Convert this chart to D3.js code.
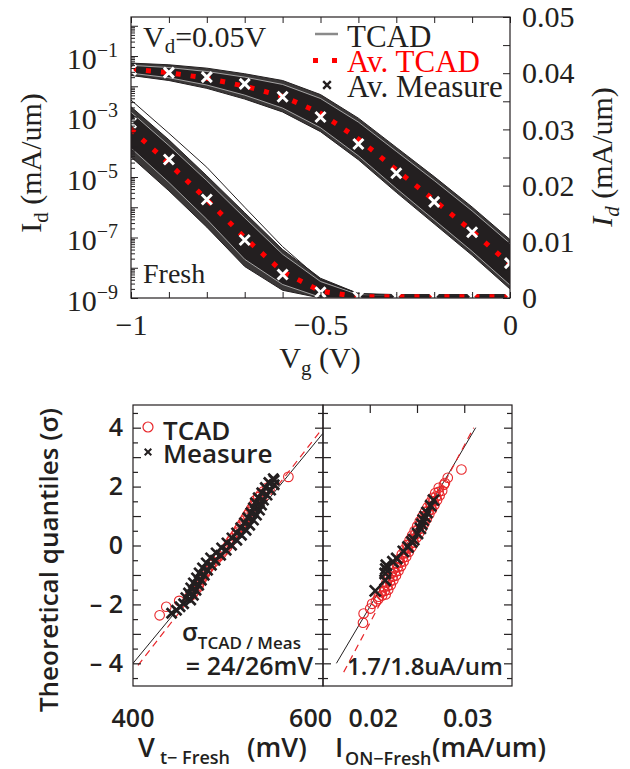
<!DOCTYPE html>
<html>
<head>
<meta charset="utf-8">
<script src="https://cdn.jsdelivr.net/npm/d3@7"></script>
<style>
  body { margin: 0; background: #fff; }
  svg { display: block; }
</style>
</head>
<body>
<div id="wrapper"></div>
<script>
// ---------- top panel: Id-Vg at Vd = 0.05V (mA/um) ----------
const vg = [-1, -0.9, -0.8, -0.7, -0.6, -0.5, -0.4, -0.3, -0.2, -0.1, 0];

// log-scale curves (left axis)
const logAvTcad  = [3.8e-4, 2.8e-5, 1.8e-6, 9.8e-8, 7.4e-9, 1.7e-9, 1.1e-9, 1.1e-9, 1.1e-9, 1.1e-9, 1.1e-9];
const logAvMeas  = [6.2e-4, 3.8e-5, 1.8e-6, 8.3e-8, 6.0e-9, 1.55e-9, 1.1e-9, 1.1e-9, 1.1e-9, 1.1e-9, 1.1e-9];
const logBandHi  = [1.4e-3, 1.1e-4, 7.6e-6, 4.5e-7, 2.8e-8, 3.5e-9, 1.3e-9, 1.25e-9, 1.25e-9, 1.25e-9, 1.25e-9];
const logBandLo  = [9.1e-5, 6.6e-6, 4.0e-7, 1.9e-8, 2.8e-9, 1.05e-9, 1e-9, 1e-9, 1e-9, 1e-9, 1e-9];
const logEdgeHi  = [2.1e-3, 1.7e-4, 1.1e-5, 6.6e-7, 4.0e-8, 4.5e-9, 1.4e-9, 1.3e-9, 1.3e-9, 1.3e-9, 1.3e-9];
const logEdgeLo  = [4.6e-5, 3.5e-6, 2.2e-7, 1.1e-8, 1.8e-9, 1e-9, 1e-9, 1e-9, 1e-9, 1e-9, 1e-9];
const logOutlier = [3.5e-3, 2.8e-4, 2.1e-5, 1.0e-6, 5.0e-8, 4.0e-9, 1.4e-9, 1.2e-9, 1.2e-9, 1.2e-9, 1.2e-9];

// linear-scale curves (right axis)
const linAvTcad = [0.0407, 0.0401, 0.0391, 0.0377, 0.0359, 0.0329, 0.0283, 0.0228, 0.0174, 0.0119, 0.0060];
const linAvMeas = [0.0406, 0.0401, 0.0393, 0.0381, 0.0358, 0.0322, 0.0274, 0.0222, 0.0171, 0.0117, 0.0062];
const linBandHi = [0.0414, 0.0410, 0.0403, 0.0393, 0.0380, 0.0355, 0.0313, 0.0261, 0.0209, 0.0155, 0.0097];
const linBandLo = [0.0400, 0.0392, 0.0379, 0.0361, 0.0338, 0.0303, 0.0253, 0.0195, 0.0139, 0.0083, 0.0023];
const linEdgeHi = [0.0418, 0.0415, 0.0409, 0.0399, 0.0387, 0.0362, 0.0320, 0.0268, 0.0216, 0.0162, 0.0104];
const linEdgeLo = [0.0396, 0.0387, 0.0373, 0.0354, 0.0331, 0.0296, 0.0246, 0.0188, 0.0132, 0.0076, 0.0016];

const vgLabels = [-1, -0.5, 0];
const idLinLabels = [0, 0.01, 0.02, 0.03, 0.04, 0.05];
const idLogLabels = [1e-9, 1e-7, 1e-5, 1e-3, 1e-1];

// ---------- bottom panels: normal QQ plots, [value, theoretical quantile] ----------
const vtTcad = [[430,-2.37],[437.5,-2.08],[452,-1.88],[463,-1.76],[467,-1.66],[469,-1.56],[472,-1.46],[474,-1.36],
  [475,-1.26],[477,-1.16],[479,-1.06],[481,-0.96],[483,-0.86],[485,-0.76],[488,-0.66],[491,-0.56],[494,-0.46],
  [497,-0.36],[500,-0.26],[503,-0.16],[506,-0.06],[508,0.04],[510,0.14],[512,0.24],[515,0.34],[517,0.44],
  [519,0.54],[521,0.64],[523,0.74],[525,0.84],[527,0.94],[529,1.04],[531,1.14],[533,1.24],[535,1.34],
  [537,1.44],[538,1.54],[541,1.64],[544,1.74],[547,1.84],[551,1.96],[556,2.08],[575,2.33]];
const vtMeas = [[443.5,-2.30],[449,-2.20],[453,-2.08],[457,-1.98],[465,-1.85],[459.5,-1.77],[468,-1.69],
  [462.5,-1.61],[471,-1.52],[465,-1.44],[474,-1.35],[468,-1.27],[477,-1.18],[471.5,-1.10],[480.3,-1.01],
  [474.5,-0.93],[484,-0.84],[478.3,-0.76],[488.3,-0.67],[482.5,-0.59],[492.5,-0.50],[487.4,-0.42],[498.7,-0.33],
  [493.6,-0.25],[505,-0.16],[499.8,-0.08],[511,0.01],[505.8,0.09],[517,0.18],[511.4,0.26],[522.2,0.35],
  [516.6,0.43],[527.4,0.52],[521.3,0.60],[531.5,0.69],[525.5,0.77],[535.7,0.86],[529.3,0.94],[539.1,1.03],
  [532.7,1.11],[542.5,1.20],[535.6,1.28],[544.8,1.37],[537.8,1.45],[547,1.54],[541,1.62],[551,1.71],
  [545,1.79],[555,1.88],[549,1.97],[559,2.06],[553,2.14],[559,2.22],[558,2.27]];
const ionTcad = [[0.01923,-2.62],[0.01930,-2.31],[0.02000,-2.14],[0.02020,-1.98],[0.02060,-1.90],
  [0.02085,-1.82],[0.02089,-1.74],[0.02163,-1.66],[0.02116,-1.58],[0.02190,-1.50],[0.02144,-1.42],
  [0.02217,-1.34],[0.02171,-1.26],[0.02244,-1.18],[0.02198,-1.10],[0.02272,-1.02],[0.02225,-0.94],
  [0.02299,-0.86],[0.02252,-0.78],[0.02326,-0.70],[0.02280,-0.62],[0.02353,-0.54],[0.02307,-0.46],
  [0.02380,-0.38],[0.02334,-0.30],[0.02408,-0.22],[0.02361,-0.14],[0.02435,-0.06],[0.02388,0.02],
  [0.02462,0.10],[0.02416,0.18],[0.02489,0.26],[0.02443,0.34],[0.02516,0.42],[0.02470,0.50],
  [0.02544,0.58],[0.02497,0.66],[0.02571,0.74],[0.02524,0.82],[0.02598,0.90],[0.02552,0.98],
  [0.02625,1.06],[0.02579,1.14],[0.02652,1.22],[0.02606,1.30],[0.02680,1.38],[0.02633,1.46],
  [0.02707,1.54],[0.02660,1.62],[0.02734,1.70],[0.02688,1.78],[0.02761,1.86],[0.02725,1.96],
  [0.02780,2.06],[0.02790,2.12],[0.02820,2.30],[0.02965,2.58],
  [0.02126,-1.70],[0.02153,-1.54],[0.02180,-1.38],[0.02208,-1.22],[0.02235,-1.06],[0.02262,-0.90],
  [0.02289,-0.74],[0.02316,-0.58],[0.02344,-0.42],[0.02371,-0.26],[0.02398,-0.10],[0.02425,0.06],
  [0.02452,0.22],[0.02480,0.38],[0.02507,0.54],[0.02534,0.70],[0.02561,0.86],[0.02588,1.02],
  [0.02616,1.18],[0.02643,1.34],[0.02670,1.50],[0.02697,1.66],[0.02724,1.82]];
const ionMeas = [[0.02053,-1.54],[0.02158,-1.18],[0.02158,-0.95],[0.02165,-0.80],[0.02170,-0.67],
  [0.02240,-0.55],[0.02280,-0.44],[0.02350,-0.20],[0.02400,-0.05],[0.02440,0.12],[0.02460,0.20],
  [0.02500,0.41],[0.02530,0.58],[0.02545,0.72],[0.02560,0.86],[0.02580,0.98],[0.02600,1.12],
  [0.02640,1.35],[0.02670,1.54]];
// fitted normal lines, end points [value, quantile]
const vtFitMeas  = [[400, -4.0], [614, 3.81]];
const vtFitTcad  = [[405.6, -4.07], [614, 4.0]];
const ionFitMeas = [[0.01642, -4.0], [0.03116, 4.0]];
const ionFitTcad = [[0.01719, -4.3], [0.03095, 4.0]];

const qLabels = [-4, -2, 0, 2, 4];
const vtLabels = [400, 600];
const ionLabels = [0.02, 0.03];
const ionTopTicks = [0.02, 0.025, 0.03];

// ---------- drawing ----------
const ink = "#231f20";
const red = "#ff0000";
const red2 = "#e8262a";
const serif = '"Liberation Serif", "DejaVu Serif", serif';
const sans = '"Open Sans", "Noto Sans", sans-serif';

const svg = d3.select("#wrapper").append("svg")
    .attr("width", 630)
    .attr("height", 769);

const dim = {left: 131, right: 510, top: 17, bottom: 298};

const x = d3.scaleLinear().domain([-1, 0]).range([dim.left, dim.right]);
const yLog = d3.scaleLog().domain([1e-9, 1.95]).range([dim.bottom, dim.top]).clamp(true);
const yLin = d3.scaleLinear().domain([0, 0.05]).range([dim.bottom, dim.top]);

const defs = svg.append("defs");
defs.append("clipPath").attr("id", "clipTop")
    .append("rect")
    .attr("x", dim.left).attr("y", dim.top)
    .attr("width", dim.right - dim.left).attr("height", dim.bottom - dim.top);

const plot = svg.append("g").attr("clip-path", "url(#clipTop)");

function drawBand(hi, lo, y, fill) {
    const area = d3.area()
        .x((d, i) => x(vg[i]))
        .y0((d, i) => y(lo[i]))
        .y1((d, i) => y(hi[i]));
    plot.append("path").datum(hi).attr("d", area).attr("fill", fill);
}
function drawLine(vals, y, stroke, width, dash) {
    const line = d3.line().x((d, i) => x(vg[i])).y(d => y(d));
    plot.append("path").datum(vals)
        .attr("d", line)
        .attr("fill", "none")
        .attr("stroke", stroke)
        .attr("stroke-width", width)
        .attr("stroke-dasharray", dash || null);
}

// TCAD bands: dark core, thin light gaps, outer curves
drawBand(logEdgeHi, logEdgeLo, yLog, "#3b3838");
drawBand(logBandHi, logBandLo, yLog, ink);
drawLine(logBandHi, yLog, "#d8d8d8", 0.7);
drawLine(logBandLo, yLog, "#d8d8d8", 0.7);
drawLine(logEdgeHi, yLog, ink, 1);
drawLine(logEdgeLo, yLog, ink, 1);
drawLine(logOutlier, yLog, ink, 1);

drawBand(linEdgeHi, linEdgeLo, yLin, "#3b3838");
drawBand(linBandHi, linBandLo, yLin, ink);
drawLine(linBandHi, yLin, "#d8d8d8", 0.7);
drawLine(linBandLo, yLin, "#d8d8d8", 0.7);
drawLine(linEdgeHi, yLin, ink, 1);
drawLine(linEdgeLo, yLin, ink, 1);

// average TCAD (red dotted)
drawLine(logAvTcad, yLog, red, 5, "5,10");
drawLine(linAvTcad, yLin, red, 5, "5,10");

// average measure (white crosses)
const cross = s => `M${-s},${-s}L${s},${s}M${-s},${s}L${s},${-s}`;
function drawCrosses(vals, y) {
    plot.append("g").selectAll("path")
        .data(vals)
        .enter()
        .append("path")
        .attr("d", cross(5))
        .attr("transform", (d, i) => `translate(${x(vg[i])},${y(d)})`)
        .attr("stroke", "#fff")
        .attr("stroke-width", 3)
        .attr("fill", "none");
}
drawCrosses(logAvMeas, yLog);
drawCrosses(linAvMeas, yLin);

// frame
svg.append("rect")
    .attr("x", dim.left).attr("y", dim.top)
    .attr("width", dim.right - dim.left).attr("height", dim.bottom - dim.top)
    .attr("fill", "none").attr("stroke", ink).attr("stroke-width", 1.2);

// axes
function styleAxis(g, size, family) {
    g.select(".domain").remove();
    g.attr("font-size", size).attr("font-family", family);
    g.selectAll(".tick line").attr("stroke", ink).attr("stroke-width", 1);
    g.selectAll(".tick text").attr("fill", ink);
}

const xBottom = svg.append("g")
    .attr("transform", `translate(0,${dim.bottom})`)
    .call(d3.axisBottom(x).tickValues(vg).tickSize(-6).tickPadding(16)
        .tickFormat(d => vgLabels.some(v => Math.abs(v - d) < 1e-9) ? d3.format("")(d) : ""));
styleAxis(xBottom, 30, serif);

const xTop = svg.append("g")
    .attr("transform", `translate(0,${dim.top})`)
    .call(d3.axisTop(x).tickValues(vg).tickSize(-6).tickFormat(""));
styleAxis(xTop, 30, serif);

const yLeft = svg.append("g")
    .attr("transform", `translate(${dim.left},0)`)
    .call(d3.axisLeft(yLog).tickValues(yLog.ticks()).tickSize(-4).tickPadding(13).tickFormat(""));
styleAxis(yLeft, 30, serif);
yLeft.selectAll(".tick").each(function(d) {
    const e = Math.round(Math.log10(d));
    const major = Math.abs(Math.log10(d) - e) < 1e-6;
    const g = d3.select(this);
    g.select("line").attr("x2", major ? 7 : 4);
    if (idLogLabels.some(v => Math.abs(Math.log10(v) - Math.log10(d)) < 1e-6)) {
        const t = g.select("text").attr("dy", "0.4em");
        t.append("tspan").text("10");
        t.append("tspan").attr("dy", -12).attr("font-size", 20).text("\u2212" + Math.abs(e));
    }
});

const yRight = svg.append("g")
    .attr("transform", `translate(${dim.right},0)`)
    .call(d3.axisRight(yLin).ticks(10).tickSize(-7).tickPadding(12)
        .tickFormat(d => idLinLabels.some(v => Math.abs(v - d) < 1e-9) ? (d === 0 ? "0" : d3.format(".2f")(d)) : ""));
styleAxis(yRight, 30, serif);

// axis titles
svg.append("text")
    .attr("transform", "translate(41,163) rotate(-90)")
    .attr("text-anchor", "middle")
    .attr("font-family", serif).attr("font-size", 30).attr("fill", ink)
    .call(t => {
        t.append("tspan").text("I");
        t.append("tspan").attr("dy", 7).attr("font-size", 21).text("d");
        t.append("tspan").attr("dy", -7).text(" (mA/um)");
    });

svg.append("text")
    .attr("transform", "translate(612,157) rotate(-90)")
    .attr("text-anchor", "middle")
    .attr("font-family", serif).attr("font-size", 30).attr("fill", ink)
    .call(t => {
        t.append("tspan").attr("font-style", "italic").text("I");
        t.append("tspan").attr("dy", 7).attr("font-size", 21).attr("font-style", "italic").text("d");
        t.append("tspan").attr("dy", -7).text(" (mA/um)");
    });

svg.append("text")
    .attr("x", 320).attr("y", 368)
    .attr("text-anchor", "middle")
    .attr("font-family", serif).attr("font-size", 30).attr("fill", ink)
    .call(t => {
        t.append("tspan").text("V");
        t.append("tspan").attr("dy", 7).attr("font-size", 21).text("g");
        t.append("tspan").attr("dy", -7).text(" (V)");
    });

// annotations
svg.append("text")
    .attr("x", 143).attr("y", 47)
    .attr("font-family", serif).attr("font-size", 30).attr("fill", ink)
    .call(t => {
        t.append("tspan").text("V");
        t.append("tspan").attr("dy", 6).attr("font-size", 21).text("d");
        t.append("tspan").attr("dy", -6).text("=0.05V");
    });
svg.append("text")
    .attr("x", 143).attr("y", 283)
    .attr("font-family", serif).attr("font-size", 28).attr("fill", ink)
    .text("Fresh");

// legend (top)
const legTop = svg.append("g").attr("font-family", serif).attr("font-size", 31);
legTop.append("line")
    .attr("x1", 315).attr("x2", 338).attr("y1", 34).attr("y2", 34)
    .attr("stroke", "#8a8a8a").attr("stroke-width", 2.5);
legTop.append("line")
    .attr("x1", 313).attr("x2", 338).attr("y1", 60.5).attr("y2", 60.5)
    .attr("stroke", red).attr("stroke-width", 5).attr("stroke-dasharray", "5,14");
legTop.append("path")
    .attr("d", cross(3.8)).attr("transform", "translate(327,85)")
    .attr("stroke", ink).attr("stroke-width", 2.4).attr("fill", "none");
legTop.append("text").attr("x", 347).attr("y", 47).attr("fill", ink).text("TCAD");
legTop.append("text").attr("x", 347).attr("y", 72).attr("fill", red).text("Av. TCAD");
legTop.append("text").attr("x", 347).attr("y", 97).attr("fill", ink).text("Av. Measure");

// ---------- bottom QQ panels ----------
const pb = {top: 405, bottom: 686, left: 133, mid: 323, right: 512};
const yQ = d3.scaleLinear().domain([-4.77, 4.77]).range([pb.bottom, pb.top]);
const xVt = d3.scaleLinear().domain([400, 614]).range([pb.left, pb.mid]);
const xIon = d3.scaleLinear().domain([0.015, 0.035]).range([pb.mid, pb.right]);

function qqPanel(id, xs, x0, x1, tcad, meas, fitMeas, fitTcad, crossSize) {
    defs.append("clipPath").attr("id", id)
        .append("rect")
        .attr("x", x0).attr("y", pb.top)
        .attr("width", x1 - x0).attr("height", pb.bottom - pb.top);
    const g = svg.append("g").attr("clip-path", `url(#${id})`);
    const fit = d3.line().x(d => xs(d[0])).y(d => yQ(d[1]));
    g.append("path").datum(fitMeas).attr("d", fit)
        .attr("stroke", ink).attr("stroke-width", 1).attr("fill", "none");
    g.append("path").datum(fitTcad).attr("d", fit)
        .attr("stroke", red2).attr("stroke-width", 1.2).attr("stroke-dasharray", "7,5").attr("fill", "none");
    g.append("g").selectAll("circle")
        .data(tcad)
        .enter()
        .append("circle")
        .attr("cx", d => xs(d[0]))
        .attr("cy", d => yQ(d[1]))
        .attr("r", 4.8)
        .attr("fill", "none")
        .attr("stroke", red2)
        .attr("stroke-width", 1.1);
    g.append("g").selectAll("path")
        .data(meas)
        .enter()
        .append("path")
        .attr("d", cross(crossSize))
        .attr("transform", d => `translate(${xs(d[0])},${yQ(d[1])})`)
        .attr("stroke", ink)
        .attr("stroke-width", 2.7)
        .attr("fill", "none");
    svg.append("rect")
        .attr("x", x0).attr("y", pb.top)
        .attr("width", x1 - x0).attr("height", pb.bottom - pb.top)
        .attr("fill", "none").attr("stroke", ink).attr("stroke-width", 1.2);
}
qqPanel("clipVt", xVt, pb.left, pb.mid, vtTcad, vtMeas, vtFitMeas, vtFitTcad, 5);
qqPanel("clipIon", xIon, pb.mid, pb.right, ionTcad, ionMeas, ionFitMeas, ionFitTcad, 5.5);

// quantile ticks on every vertical border
function qTicks(xPos, dir, withLabels) {
    const ax = (dir > 0 ? d3.axisLeft(yQ) : d3.axisRight(yQ))
        .tickValues(yQ.ticks(20))
        .tickSize(0)
        .tickPadding(10)
        .tickFormat(d => withLabels && qLabels.includes(d) ? (d < 0 ? "\u2013 " + (-d) : String(d)) : "");
    const g = svg.append("g").attr("transform", `translate(${xPos},0)`).call(ax);
    styleAxis(g, 25, sans);
    g.attr("font-weight", 600);
    g.selectAll(".tick line")
        .attr("x2", d => dir * (Number.isInteger(d) ? 8 : 5))
        .attr("stroke-width", 1.2);
}
qTicks(pb.left, 1, true);
qTicks(pb.mid, -1, false);
qTicks(pb.mid, 1, false);
qTicks(pb.right, -1, false);

// ION top ticks
svg.append("g").selectAll("line")
    .data(ionTopTicks)
    .enter()
    .append("line")
    .attr("x1", d => xIon(d)).attr("x2", d => xIon(d))
    .attr("y1", pb.top).attr("y2", pb.top + 8)
    .attr("stroke", ink).attr("stroke-width", 1.2);

// bottom tick labels
const bl = svg.append("g").attr("font-family", sans).attr("font-size", 25)
    .attr("font-weight", 600).attr("fill", ink).attr("text-anchor", "middle");
bl.selectAll("text.vt")
    .data(vtLabels)
    .enter()
    .append("text")
    .attr("class", "vt")
    .attr("x", d => xVt(d)).attr("y", 727)
    .text(d => d);
bl.selectAll("text.ion")
    .data(ionLabels)
    .enter()
    .append("text")
    .attr("class", "ion")
    .attr("x", d => xIon(d) + 3).attr("y", 727)
    .text(d => d3.format(".2f")(d));

// bottom titles
svg.append("text")
    .attr("transform", "translate(58,560) rotate(-90)")
    .attr("text-anchor", "middle")
    .attr("font-family", sans).attr("font-size", 26).attr("font-weight", 600).attr("fill", ink)
    .text("Theoretical quantiles (\u03c3)");

svg.append("text")
    .attr("x", 138).attr("y", 757)
    .attr("font-family", sans).attr("font-size", 27).attr("font-weight", 600).attr("fill", ink)
    .call(t => {
        t.append("tspan").text("V");
        t.append("tspan").attr("x", 160).attr("dy", 7).attr("font-size", 18).text("t\u2212 Fresh");
        t.append("tspan").attr("x", 247).attr("dy", -7).text("(mV)");
    });
svg.append("text")
    .attr("x", 335).attr("y", 757)
    .attr("font-family", sans).attr("font-size", 27).attr("font-weight", 600).attr("fill", ink)
    .call(t => {
        t.append("tspan").text("I");
        t.append("tspan").attr("x", 345).attr("dy", 8).attr("font-size", 18).text("ON\u2212Fresh");
        t.append("tspan").attr("x", 432).attr("dy", -8).text("(mA/um)");
    });

// sigma annotations
svg.append("text")
    .attr("x", 182).attr("y", 641)
    .attr("font-family", sans).attr("font-size", 25).attr("font-weight", 600).attr("fill", ink)
    .call(t => {
        t.append("tspan").text("\u03c3");
        t.append("tspan").attr("dy", 8).attr("font-size", 17).text("TCAD / Meas");
    });
svg.append("text")
    .attr("x", 313).attr("y", 675).attr("text-anchor", "end")
    .attr("font-family", sans).attr("font-size", 25).attr("font-weight", 600).attr("fill", ink)
    .text("= 24/26mV");
svg.append("text")
    .attr("x", 503).attr("y", 675).attr("text-anchor", "end")
    .attr("font-family", sans).attr("font-size", 24).attr("font-weight", 600).attr("fill", ink)
    .text("1.7/1.8uA/um");

// legend (bottom)
const legB = svg.append("g").attr("font-family", sans).attr("font-size", 26).attr("font-weight", 600);
legB.append("circle").attr("cx", 148).attr("cy", 427).attr("r", 5)
    .attr("fill", "none").attr("stroke", red2).attr("stroke-width", 1.2);
legB.append("path").attr("d", cross(3.3)).attr("transform", "translate(148,452)")
    .attr("stroke", ink).attr("stroke-width", 2).attr("fill", "none");
legB.append("text").attr("x", 163).attr("y", 440).attr("fill", ink).text("TCAD");
legB.append("text").attr("x", 163).attr("y", 463).attr("fill", ink).text("Measure");
</script>
</body>
</html>
